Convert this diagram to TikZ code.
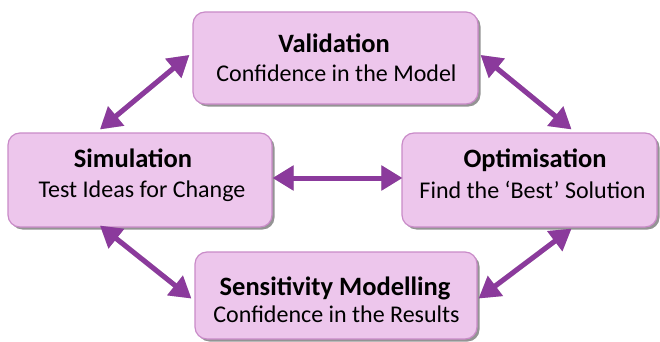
\documentclass[tikz,border=0pt]{standalone}
\usepackage{fontspec}
\setmainfont{Carlito}
\usetikzlibrary{arrows.meta,shadows,calc}
\definecolor{boxfill}{HTML}{EDC6EC}
\definecolor{boxline}{HTML}{C98BC8}
\definecolor{arr}{HTML}{8B3A9C}
\tikzset{
  stagebox/.style={draw=boxline, line width=1.2pt, fill=boxfill, rounded corners=12pt,
    inner sep=0pt, drop shadow={shadow xshift=2.5pt, shadow yshift=-2.5pt, opacity=0.6, fill=black!70}},
  ttl/.style={anchor=base, inner sep=0pt, font=\fontsize{26.5}{30}\selectfont\bfseries},
  sub/.style={anchor=base, inner sep=0pt, font=\fontsize{24}{28}\selectfont},
  link/.style={draw=arr, line width=5pt, {Triangle[length=21pt,width=24pt]}-{Triangle[length=21pt,width=24pt]}},
  linkshadow/.style={draw=black!45, opacity=0.5, line width=5pt, {Triangle[length=21pt,width=24pt]}-{Triangle[length=21pt,width=24pt]}},
}
\begin{document}
\begin{tikzpicture}[x=1pt,y=-1pt]
\useasboundingbox (0,0) rectangle (660,342);
% boxes
\node[stagebox, minimum width=285pt, minimum height=92pt] (val) at (335.5,58) {};
\node[stagebox, minimum width=264pt, minimum height=94pt] (sim) at (140,180) {};
\node[stagebox, minimum width=255pt, minimum height=94pt] (opt) at (529.5,180) {};
\node[stagebox, minimum width=282pt, minimum height=87pt] (sen) at (336,295.5) {};
% texts
\node[ttl] (valt) at (334,53) {Validation};
\node[sub] (vals) at (336.5,82) {Confidence in the Model};
\node[ttl] (simt) at (133,167) {Simulation};
\node[sub] (sims) at (142,197) {Test Ideas for Change};
\node[ttl] (optt) at (535,167) {Optimisation};
\node[sub] (opts) at (532.5,198) {Find the ‘Best’ Solution};
\node[ttl] (sent) at (335,295) {Sensitivity Modelling};
\node[sub] (sens) at (336.5,322) {Confidence in the Results};
% arrow end points
\coordinate (a1) at ($(sim.north)+(-40,-3)$);
\coordinate (a2) at ($(val.west)+(-3,-3)$);
\coordinate (b1) at ($(val.east)+(2,-3)$);
\coordinate (b2) at ($(opt.north)+(42,-3)$);
\coordinate (c1) at ($(sim.east)+(0,-2)$);
\coordinate (c2) at ($(opt.west)+(1,-2)$);
\coordinate (d1) at ($(sim.south)+(-40,-2)$);
\coordinate (d2) at ($(sen.west)+(-3,3)$);
\coordinate (e1) at ($(sen.east)+(1,3)$);
\coordinate (e2) at ($(opt.south)+(42,1)$);
% arrow shadows
\begin{scope}[shift={(2pt,-2pt)}]
\draw[linkshadow] (a1) -- (a2);
\draw[linkshadow] (b1) -- (b2);
\draw[linkshadow] (c1) -- (c2);
\draw[linkshadow] (d1) -- (d2);
\draw[linkshadow] (e1) -- (e2);
\end{scope}
\draw[link] (a1) -- (a2);
\draw[link] (b1) -- (b2);
\draw[link] (c1) -- (c2);
\draw[link] (d1) -- (d2);
\draw[link] (e1) -- (e2);
\end{tikzpicture}
\end{document}
